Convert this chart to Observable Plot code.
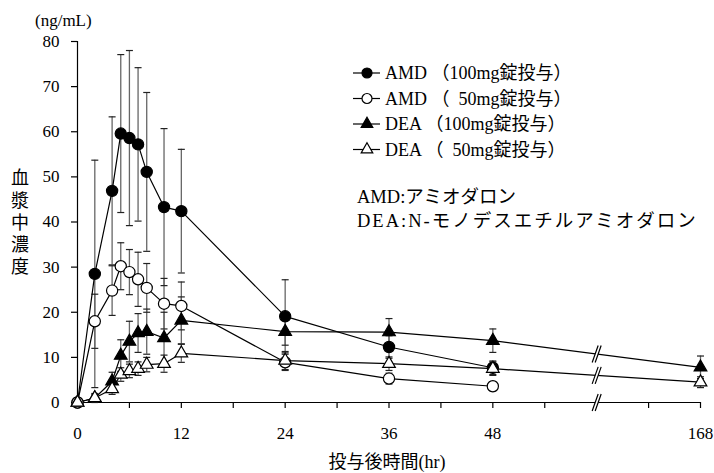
<!DOCTYPE html>
<html><head><meta charset="utf-8">
<script src="https://cdn.jsdelivr.net/npm/d3@7"></script>
<script src="https://cdn.jsdelivr.net/npm/@observablehq/plot@0.6"></script>
<style>body{margin:0;background:#fff}</style>
</head><body><div id="chart"></div>
<script>
// ---- data ----
const times = [0, 2, 4, 5, 6, 7, 8, 10, 12, 24, 36, 48, 168];
const amd100   = [0, 28.5, 46.9, 59.6, 58.6, 57.2, 51.1, 43.3, 42.4, 19.1, 12.3, 7.7, null];
const amd100sd = [0, 25.2, 16.4, 17.5, 19.4, 17.0, 17.6, 17.4, 13.7, 8.1, 2.5, 1.5, null];
const amd50    = [0, 18.0, 24.8, 30.2, 28.9, 27.3, 25.4, 21.9, 21.4, 8.9, 5.3, 3.6, null];
const amd50sd  = [0, 6.0, 5.5, 5.2, 5.0, 6.0, 5.4, 5.6, 5.3, 1.8, 1.2, 1.0, null];
const dea100   = [0, 1.0, 4.7, 10.4, 13.5, 15.4, 15.7, 14.3, 18.2, 15.7, 15.6, 13.7, 7.8];
const dea100sd = [0, 1.0, 2.0, 3.5, 4.5, 4.3, 5.0, 5.7, 5.2, 3.0, 3.0, 2.6, 2.5];
const dea50    = [0, 1.0, 3.0, 6.2, 7.0, 7.5, 8.4, 8.6, 10.9, 9.3, 8.6, 7.5, 4.5];
const dea50sd  = [0, 0.8, 1.2, 1.5, 1.5, 1.5, 1.6, 1.9, 2.0, 2.0, 1.5, 1.5, 1.2];
const seriesNames = ["AMD （100mg錠投与）", "AMD （\u200750mg錠投与）", "DEA （100mg錠投与）", "DEA （\u200750mg錠投与）"];
const xTickValues = [0, 12, 24, 36, 48, 168];
const xMinorValues = [6, 18, 30, 42, 54, 66];
const yTickValues = [0, 10, 20, 30, 40, 50, 60, 70, 80];
const yLabelChars = ["血", "漿", "中", "濃", "度"];
const unitLabel = "(ng/mL)";
const xLabel = "投与後時間(hr)";
const notes = ["AMD:アミオダロン", "DEA:N-モノデスエチルアミオダロン"];

// ---- broken axis: 168 h drawn at the 72 h position ----
const xOf = t => t > 48 ? 72 : t;
const breakX = (48 + 72) / 2;

const FONT = "'Liberation Serif','Noto Sans CJK JP',serif";
const defs = [
  {values: amd100, sd: amd100sd, symbol: "circle", fill: "black", r: 5.6},
  {values: amd50,  sd: amd50sd,  symbol: "circle", fill: "white", r: 5.6},
  {values: dea100, sd: dea100sd, symbol: "triangle", fill: "black", r: 4.7},
  {values: dea50,  sd: dea50sd,  symbol: "triangle", fill: "white", r: 4.7}
];
const rows = defs.map((s, i) => times.map((t, j) => ({series: i, x: xOf(t), y: s.values[j], sd: s.sd[j]}))
  .filter(d => d.y != null));
const all = rows.flat();
const bars = all.filter(d => d.sd > 0);
const caps = bars.flatMap(d => [{x: d.x, y: d.y + d.sd}, {x: d.x, y: Math.max(0, d.y - d.sd)}]);
const breaks = defs.filter(s => s.values[12] != null).map(s => ({x: breakX, y: (s.values[11] + s.values[12]) / 2}));
breaks.push({x: breakX, y: 0});

const capSym = {draw(ctx) { ctx.moveTo(-3.5, 0); ctx.lineTo(3.5, 0); }};
const brkFill = {draw(ctx) { ctx.moveTo(-4.5, 8.5); ctx.lineTo(1.5, -8.5); ctx.lineTo(4.5, -8.5); ctx.lineTo(-1.5, 8.5); ctx.closePath(); }};
const brkLine = {draw(ctx) { ctx.moveTo(-4.5, 8.5); ctx.lineTo(1.5, -8.5); ctx.moveTo(-1.5, 8.5); ctx.lineTo(4.5, -8.5); }};

const xMajor = xTickValues.map(xOf);
const chart = Plot.plot({
  width: 714, height: 473,
  marginLeft: 77, marginRight: 14, marginTop: 41, marginBottom: 71,
  style: {fontFamily: FONT, fontSize: "17px", color: "black", background: "white"},
  x: {type: "linear", domain: [0, 72]},
  y: {domain: [0, 80]},
  marks: [
    Plot.axisY({ticks: yTickValues, tickSize: 6, tickPadding: 12, label: null, fontSize: 17, strokeWidth: 1.2}),
    Plot.axisX({ticks: xMajor, tickFormat: d => String(xTickValues[xMajor.indexOf(d)]), tickSize: 6, tickPadding: 18, label: null, fontSize: 17, strokeWidth: 1.2}),
    Plot.axisX({ticks: xMinorValues, tickFormat: () => "", tickSize: 6, label: null, strokeWidth: 1.2}),
    Plot.ruleX([0], {stroke: "black", strokeWidth: 1.2}),
    Plot.ruleY([0], {stroke: "black", strokeWidth: 1.2}),
    Plot.ruleX(bars, {x: "x", y1: d => Math.max(0, d.y - d.sd), y2: d => d.y + d.sd, stroke: "#666", strokeWidth: 1.3}),
    Plot.dot(caps, {x: "x", y: "y", symbol: capSym, fill: "none", stroke: "#222", strokeWidth: 1.2}),
    Plot.line(all, {x: "x", y: "y", z: "series", stroke: "black", strokeWidth: 1.2}),
    Plot.dot(breaks, {x: "x", y: "y", symbol: brkFill, fill: "white", stroke: "none"}),
    Plot.dot(breaks, {x: "x", y: "y", symbol: brkLine, fill: "none", stroke: "black", strokeWidth: 1.2}),
    ...defs.map((s, i) => Plot.dot(rows[i], {x: "x", y: "y", symbol: s.symbol, r: s.r, fill: s.fill, stroke: "black", strokeWidth: 1.2}))
  ]
});

const svg = d3.select(chart);
// unit label
svg.append("text").attr("x", 35).attr("y", 20).attr("dy", "0.35em").attr("text-anchor", "start")
  .attr("font-size", 17).attr("font-family", FONT).text(unitLabel);
// vertical y label
yLabelChars.forEach((c, i) => svg.append("text").attr("x", 20).attr("y", 178 + i * 22.2).attr("dy", "0.35em")
  .attr("text-anchor", "middle").attr("font-size", 18).attr("font-family", FONT).text(c));
// x label
svg.append("text").attr("x", 387).attr("y", 462).attr("dy", "0.35em").attr("text-anchor", "middle")
  .attr("font-size", 18).attr("font-family", FONT).text(xLabel);
// legend
const lg = svg.append("g").attr("font-family", FONT).attr("font-size", 18).attr("text-anchor", "start");
defs.forEach((s, i) => {
  const y = 73 + i * 25.5;
  lg.append("line").attr("x1", 353).attr("x2", 380).attr("y1", y).attr("y2", y).attr("stroke", "black").attr("stroke-width", 1.2);
  const sym = s.symbol === "circle" ? d3.symbolCircle : d3.symbolTriangle;
  lg.append("path").attr("d", d3.symbol(sym, s.symbol === "circle" ? Math.PI * 25 : Math.PI * 4.3 * 4.3)())
    .attr("transform", `translate(367,${y})`).attr("fill", s.fill).attr("stroke", "black").attr("stroke-width", 1.2);
  lg.append("text").attr("x", 385).attr("y", y).attr("dy", "0.35em").text(seriesNames[i]);
});
notes.forEach((n, i) => lg.append("text").attr("x", 357).attr("y", 197 + i * 23.5).attr("dy", "0.35em")
  .attr("font-size", 18.5).attr("letter-spacing", i === 1 ? 2 : 0).text(n));

document.getElementById("chart").appendChild(chart);
</script>
</body></html>
